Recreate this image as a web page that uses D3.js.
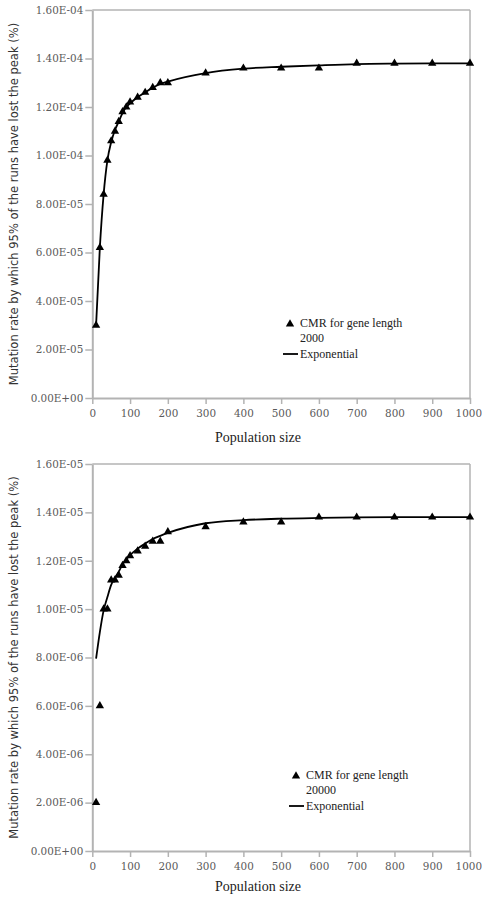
<!DOCTYPE html>
<html><head><meta charset="utf-8">
<script src="https://cdn.jsdelivr.net/npm/d3@7"></script>
<style>
html,body{margin:0;padding:0;background:#fff;}
svg{display:block;}
</style></head>
<body>
<svg id="chart" width="482" height="898"></svg>
<script>
// ---- data ----
const popSizes = [10,20,30,40,50,60,70,80,90,100,120,140,160,180,200,300,400,500,600,700,800,900,1000];

const cmr2000 = [3.0e-5,6.2e-5,8.4e-5,9.8e-5,1.06e-4,1.10e-4,1.14e-4,1.18e-4,1.20e-4,1.22e-4,1.24e-4,1.26e-4,1.28e-4,1.30e-4,1.30e-4,1.34e-4,1.36e-4,1.36e-4,1.36e-4,1.38e-4,1.38e-4,1.38e-4,1.38e-4];
const exp2000 = [3.0e-5,6.2e-5,8.4e-5,9.8e-5,1.055e-4,1.105e-4,1.14e-4,1.175e-4,1.20e-4,1.215e-4,1.24e-4,1.26e-4,1.28e-4,1.295e-4,1.305e-4,1.34e-4,1.358e-4,1.366e-4,1.372e-4,1.377e-4,1.379e-4,1.38e-4,1.38e-4];

const cmr20000 = [2.0e-6,6.0e-6,1.0e-5,1.0e-5,1.12e-5,1.12e-5,1.14e-5,1.18e-5,1.20e-5,1.22e-5,1.24e-5,1.26e-5,1.28e-5,1.28e-5,1.32e-5,1.34e-5,1.36e-5,1.36e-5,1.38e-5,1.38e-5,1.38e-5,1.38e-5,1.38e-5];
const exp20000 = [7.95e-6,9.05e-6,9.95e-6,1.05e-5,1.10e-5,1.13e-5,1.155e-5,1.185e-5,1.205e-5,1.223e-5,1.25e-5,1.271e-5,1.29e-5,1.303e-5,1.315e-5,1.355e-5,1.368e-5,1.374e-5,1.377e-5,1.379e-5,1.38e-5,1.38e-5,1.38e-5];

const xTicks = [0,100,200,300,400,500,600,700,800,900,1000];
const xLabels = ["0","100","200","300","400","500","600","700","800","900","1000"];
const yTicksTop = [0,2e-5,4e-5,6e-5,8e-5,1e-4,1.2e-4,1.4e-4,1.6e-4];
const yLabelsTop = ["0.00E+00","2.00E-05","4.00E-05","6.00E-05","8.00E-05","1.00E-04","1.20E-04","1.40E-04","1.60E-04"];
const yTicksBottom = [0,2e-6,4e-6,6e-6,8e-6,1e-5,1.2e-5,1.4e-5,1.6e-5];
const yLabelsBottom = ["0.00E+00","2.00E-06","4.00E-06","6.00E-06","8.00E-06","1.00E-05","1.20E-05","1.40E-05","1.60E-05"];

const xTitle = "Population size";
const yTitle = "Mutation rate by which 95% of the runs have lost the peak (%)";
const legendPoints2000 = ["CMR for gene length", "2000"];
const legendPoints20000 = ["CMR for gene length", "20000"];
const legendLine = "Exponential";

// ---- drawing ----
const svg = d3.select("#chart");
const gray = "#b3b3b3";
const tickColor = "#5a5a5a";

function drawChart(cfg) {
  const g = svg.append("g");
  const x = d3.scaleLinear().domain([0,1000]).range([cfg.left, cfg.right]);
  const y = d3.scaleLinear().domain([0, cfg.yMax]).range([cfg.bottom, cfg.top]);

  // frame top & right
  g.append("line").attr("x1", cfg.left).attr("x2", cfg.right).attr("y1", cfg.top).attr("y2", cfg.top)
    .attr("stroke", gray).attr("stroke-width", 1.5);
  g.append("line").attr("x1", cfg.right).attr("x2", cfg.right).attr("y1", cfg.top).attr("y2", cfg.bottom)
    .attr("stroke", gray).attr("stroke-width", 1.5);

  const yAxis = d3.axisLeft(y).tickValues(cfg.yTicks)
    .tickFormat((d,i) => cfg.yLabels[i]).tickSize(7).tickSizeOuter(0).tickPadding(2);
  const ya = g.append("g").attr("transform", `translate(${cfg.left},0)`).call(yAxis);
  const xAxis = d3.axisBottom(x).tickValues(xTicks).tickFormat((d,i) => xLabels[i])
    .tickSize(6).tickSizeOuter(0).tickPadding(6);
  const xa = g.append("g").attr("transform", `translate(0,${cfg.bottom})`).call(xAxis);
  [ya, xa].forEach(a => {
    a.select(".domain").attr("stroke", gray).attr("stroke-width", 2);
    a.selectAll(".tick line").attr("stroke", gray).attr("stroke-width", 1.5);
    a.selectAll(".tick text").attr("fill", tickColor)
      .style("font-family", "'DejaVu Serif', serif").style("font-size", "10.4px");
  });
  // keep the last x label inside the window
  xa.selectAll(".tick text").filter((d,i,n) => i === n.length - 1)
    .attr("text-anchor", "end").attr("dx", "11.5");

  // curve
  const line = d3.line().x((d,i) => x(popSizes[i])).y(d => y(d)).curve(d3.curveMonotoneX);
  g.append("path").datum(cfg.fit).attr("d", line).attr("fill", "none")
    .attr("stroke", "#000").attr("stroke-width", 1.8);

  // points
  const tri = d3.symbol().type(d3.symbolTriangle).size(30);
  g.selectAll("path.pt").data(cfg.points).join("path").attr("class","pt")
    .attr("d", tri).attr("fill", "#000")
    .attr("transform", (d,i) => `translate(${x(popSizes[i])},${y(d)})`);

  // titles
  g.append("text").attr("x", 258).attr("y", cfg.xTitleY)
    .attr("text-anchor", "middle").attr("fill", "#222")
    .style("font-family", "'Liberation Serif', serif").style("font-size", "14px").text(xTitle);
  g.append("text").attr("transform", `translate(17.5,${(cfg.top + cfg.bottom)/2}) rotate(-90)`)
    .attr("text-anchor", "middle").attr("fill", "#333")
    .style("font-family", "'DejaVu Sans', sans-serif").style("font-size", "11.5px").text(yTitle);

  // legend
  const L = cfg.legend;
  g.append("path").attr("d", tri).attr("fill", "#000")
    .attr("transform", `translate(${L.x - 10},${L.y - 3})`);
  cfg.legendText.forEach((t, i) => {
    g.append("text").attr("x", L.x).attr("y", L.y + i * 15).attr("fill", "#222")
      .style("font-family", "'Liberation Serif', serif").style("font-size", "12px").text(t);
  });
  g.append("line").attr("x1", L.x - 17).attr("x2", L.x - 2)
    .attr("y1", L.y + 27).attr("y2", L.y + 27).attr("stroke", "#000").attr("stroke-width", 1.8);
  g.append("text").attr("x", L.x).attr("y", L.y + 31).attr("fill", "#222")
    .style("font-family", "'Liberation Serif', serif").style("font-size", "12px").text(legendLine);
}

drawChart({
  left: 92.3, right: 470, top: 10, bottom: 398, yMax: 1.6e-4,
  yTicks: yTicksTop, yLabels: yLabelsTop,
  points: cmr2000, fit: exp2000, xTitleY: 442,
  legend: {x: 300, y: 327}, legendText: legendPoints2000
});
drawChart({
  left: 92.3, right: 470, top: 464, bottom: 851, yMax: 1.6e-5,
  yTicks: yTicksBottom, yLabels: yLabelsBottom,
  points: cmr20000, fit: exp20000, xTitleY: 891,
  legend: {x: 306, y: 779}, legendText: legendPoints20000
});
</script>
</body></html>
